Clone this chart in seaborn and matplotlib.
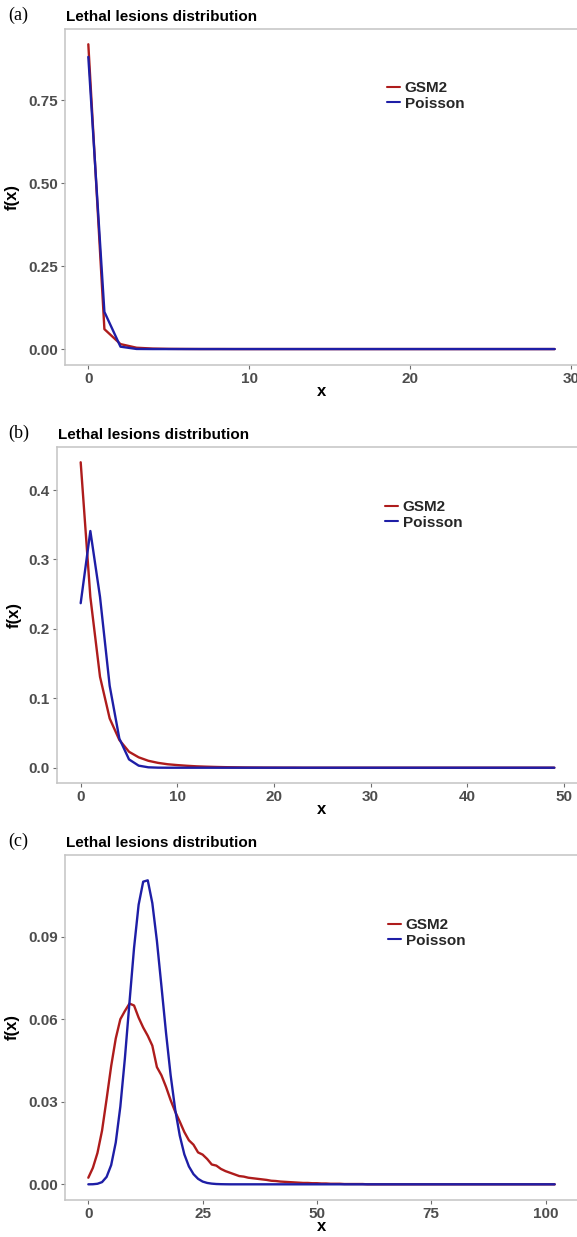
import numpy as np
import pandas as pd
import matplotlib
matplotlib.use("Agg")
import matplotlib.pyplot as plt
import seaborn as sns

# ---------------- data ----------------
x_a = list(range(0, 30))
gsm2_a = [0.918, 0.060, 0.015, 0.004, 0.0015, 0.0006, 0.0003, 0.0001, 0.0001, 0.0,
          0.0, 0.0, 0.0, 0.0, 0.0, 0.0, 0.0, 0.0, 0.0, 0.0,
          0.0, 0.0, 0.0, 0.0, 0.0, 0.0, 0.0, 0.0, 0.0, 0.0]
poisson_a = [0.880, 0.112, 0.0072, 0.0003, 0.00001, 0.0, 0.0, 0.0, 0.0, 0.0,
             0.0, 0.0, 0.0, 0.0, 0.0, 0.0, 0.0, 0.0, 0.0, 0.0,
             0.0, 0.0, 0.0, 0.0, 0.0, 0.0, 0.0, 0.0, 0.0, 0.0]

x_b = list(range(0, 50))
gsm2_b = [0.440, 0.246, 0.131, 0.071, 0.040, 0.023, 0.015, 0.010, 0.007, 0.005,
          0.0038, 0.0028, 0.0020, 0.0015, 0.0011, 0.0008, 0.0006, 0.0004, 0.0003, 0.0002,
          0.00015, 0.0001, 0.0001, 0.0, 0.0, 0.0, 0.0, 0.0, 0.0, 0.0,
          0.0, 0.0, 0.0, 0.0, 0.0, 0.0, 0.0, 0.0, 0.0, 0.0,
          0.0, 0.0, 0.0, 0.0, 0.0, 0.0, 0.0, 0.0, 0.0, 0.0]
poisson_b = [0.237, 0.341, 0.246, 0.118, 0.042, 0.012, 0.003, 0.0006, 0.0001, 0.0,
             0.0, 0.0, 0.0, 0.0, 0.0, 0.0, 0.0, 0.0, 0.0, 0.0,
             0.0, 0.0, 0.0, 0.0, 0.0, 0.0, 0.0, 0.0, 0.0, 0.0,
             0.0, 0.0, 0.0, 0.0, 0.0, 0.0, 0.0, 0.0, 0.0, 0.0,
             0.0, 0.0, 0.0, 0.0, 0.0, 0.0, 0.0, 0.0, 0.0, 0.0]

x_c = list(range(0, 103))
gsm2_c = [0.0024, 0.0060, 0.0114, 0.0195, 0.0310, 0.0430, 0.0530, 0.0600, 0.0630, 0.0657,
          0.0650, 0.0606, 0.0570, 0.0540, 0.0504, 0.0426, 0.0396, 0.0354, 0.0306, 0.0264,
          0.0228, 0.0190, 0.0160, 0.0144, 0.0116, 0.0108, 0.0092, 0.0072, 0.0068, 0.0056,
          0.0048, 0.0042, 0.0036, 0.0030, 0.0028, 0.0024, 0.0022, 0.0020, 0.0018, 0.0016,
          0.0013, 0.0012, 0.0010, 0.0009, 0.0008, 0.0007, 0.0006, 0.0005, 0.0005, 0.0004,
          0.0004, 0.0003, 0.0003, 0.0002, 0.0002, 0.0002, 0.0001, 0.0001, 0.0001, 0.0001,
          0.0001, 0.0, 0.0, 0.0, 0.0, 0.0, 0.0, 0.0, 0.0, 0.0,
          0.0, 0.0, 0.0, 0.0, 0.0, 0.0, 0.0, 0.0, 0.0, 0.0,
          0.0, 0.0, 0.0, 0.0, 0.0, 0.0, 0.0, 0.0, 0.0, 0.0,
          0.0, 0.0, 0.0, 0.0, 0.0, 0.0, 0.0, 0.0, 0.0, 0.0,
          0.0, 0.0, 0.0]
poisson_c = [0.000002, 0.00003, 0.0002, 0.0008, 0.0027, 0.0070, 0.0152, 0.0282, 0.0458, 0.0661,
             0.0859, 0.1016, 0.1100, 0.1105, 0.1022, 0.0885, 0.0719, 0.0550, 0.0397, 0.0272,
             0.0177, 0.0109, 0.0065, 0.0037, 0.0020, 0.0010, 0.0005, 0.00025, 0.00011, 0.00005,
             0.00002, 0.0, 0.0, 0.0, 0.0, 0.0, 0.0, 0.0, 0.0, 0.0,
             0.0, 0.0, 0.0, 0.0, 0.0, 0.0, 0.0, 0.0, 0.0, 0.0,
             0.0, 0.0, 0.0, 0.0, 0.0, 0.0, 0.0, 0.0, 0.0, 0.0,
             0.0, 0.0, 0.0, 0.0, 0.0, 0.0, 0.0, 0.0, 0.0, 0.0,
             0.0, 0.0, 0.0, 0.0, 0.0, 0.0, 0.0, 0.0, 0.0, 0.0,
             0.0, 0.0, 0.0, 0.0, 0.0, 0.0, 0.0, 0.0, 0.0, 0.0,
             0.0, 0.0, 0.0, 0.0, 0.0, 0.0, 0.0, 0.0, 0.0, 0.0,
             0.0, 0.0, 0.0]

panel_labels = ["(a)", "(b)", "(c)"]
title_text = "Lethal lesions distribution"
series_names = ["GSM2", "Poisson"]
xticks_list = [[0, 10, 20, 30], [0, 10, 20, 30, 40, 50], [0, 25, 50, 75, 100]]
yticks_list = [[0.00, 0.25, 0.50, 0.75], [0.0, 0.1, 0.2, 0.3, 0.4], [0.00, 0.03, 0.06, 0.09]]
ytick_fmt = ["{:.2f}", "{:.1f}", "{:.2f}"]

# ---------------- style ----------------
sns.set_theme(style="white")
plt.rcParams['font.family'] = ['Liberation Sans', 'DejaVu Sans']

RED = "#AE1C1C"
BLUE = "#1E1EA6"
palette = {"GSM2": RED, "Poisson": BLUE}

W, H = 577, 1237
fig = plt.figure(figsize=(W / 100, H / 100), dpi=100)

# axes boxes in pixels: left, right, top, bottom
boxes = [(65, 578, 29, 365), (57, 578, 447, 783), (65, 578, 855, 1200)]
xlims = [(-1.45, 30.45), (-2.45, 51.45), (-5.1, 107.1)]
ylims = [(-0.048, 0.964), (-0.022, 0.462), (-0.0057, 0.1197)]
legend_pos = [(387, 81), (385, 500), (388, 918)]
ylabel_x = [20, 22, 20]

datasets = [(x_a, gsm2_a, poisson_a), (x_b, gsm2_b, poisson_b), (x_c, gsm2_c, poisson_c)]

for i, (xs, g, p) in enumerate(datasets):
    l, r, t, b = boxes[i]
    ax = fig.add_axes([l / W, 1 - b / H, (r - l) / W, (b - t) / H])
    df = pd.DataFrame({
        "x": list(xs) + list(xs),
        "f": list(g) + list(p),
        "model": [series_names[0]] * len(xs) + [series_names[1]] * len(xs),
    })
    sns.lineplot(data=df, x="x", y="f", hue="model", palette=palette,
                 linewidth=1.7, ax=ax, legend=True)
    ax.set_xlim(*xlims[i])
    ax.set_ylim(*ylims[i])
    ax.set_xticks(xticks_list[i])
    ax.set_yticks(yticks_list[i])
    ax.set_yticklabels([ytick_fmt[i].format(v) for v in yticks_list[i]])
    for sp in ax.spines.values():
        sp.set_color("#C4C4C4")
        sp.set_linewidth(1.1)
    ax.tick_params(axis="both", length=3, width=0.8, color="#6E6E6E",
                   labelsize=11, labelcolor="#4D4D4D", pad=2)
    for lab in ax.get_xticklabels() + ax.get_yticklabels():
        lab.set_fontweight("bold")
    ax.tick_params(axis="x", bottom=True)
    ax.tick_params(axis="y", left=True)
    ax.set_xlabel("x", fontsize=12, fontweight="bold", color="black")
    ax.set_ylabel("f(x)", fontsize=12, fontweight="bold", color="black")
    ax.yaxis.set_label_coords((ylabel_x[i] - l) / (r - l), 0.5)
    ax.xaxis.set_label_coords((322 - l) / (r - l), -19 / (b - t))

    handles, labels = ax.get_legend_handles_labels()
    lx, ly = legend_pos[i]
    leg = ax.legend(handles, labels, loc="upper left",
                    bbox_to_anchor=((lx - l) / (r - l), (b - ly) / (b - t)),
                    frameon=False, borderpad=0, borderaxespad=0,
                    handlelength=0.85, handletextpad=0.3, labelspacing=0.12,
                    prop={"family": "Liberation Sans", "weight": "bold", "size": 11})
    for h in leg.get_lines():
        h.set_linewidth(1.5)

    fig.text((l + 1) / W, 1 - (t - 8) / H, title_text, fontsize=11, fontweight="bold",
             color="black", ha="left", va="baseline")
    fig.text(8 / W, 1 - (t - 9) / H, panel_labels[i], fontsize=13,
             family="Liberation Serif", color="black", ha="left", va="baseline")

fig.savefig("out.png", dpi=100)
